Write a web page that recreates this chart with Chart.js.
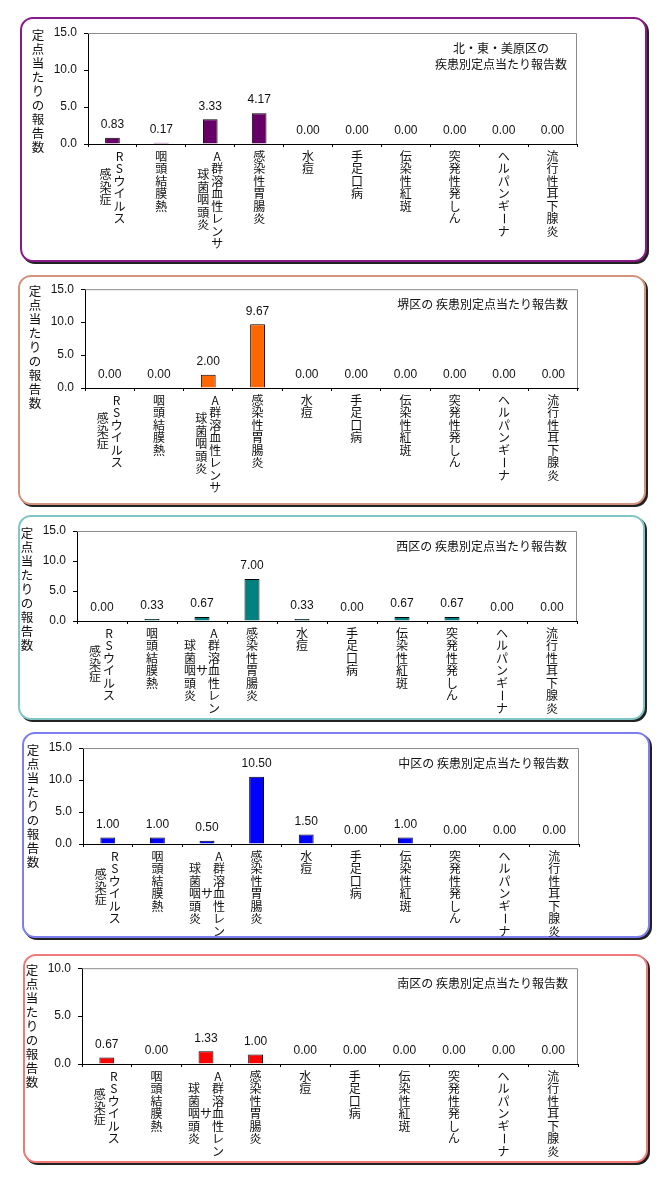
<!DOCTYPE html>
<html lang="ja">
<head>
<meta charset="utf-8">
<title>疾患別定点当たり報告数</title>
<script src="https://cdn.jsdelivr.net/npm/chart.js@4.4.1/dist/chart.umd.min.js"></script>
<style>
    html, body { margin: 0; padding: 0; background: #fff; }
    #page { position: relative; width: 660px; height: 1184px; overflow: hidden; }
    .box {
        position: absolute;
        box-sizing: border-box;
        border: 2px solid;
        border-radius: 13px;
        box-shadow: 2px 2px 0 #222;
        background: #fff;
    }
    .chart-wrap { position: absolute; }
</style>
</head>
<body>
<div id="page"></div>
<script>
// Fuentes / padrões
Chart.defaults.font.family = "'Liberation Sans', 'Noto Sans CJK JP', sans-serif";
Chart.defaults.color = '#111';

const JP_FONT = "'Noto Sans CJK JP', sans-serif";

// 疾患名
const diseaseNames = ['RSウイルス感染症', '咽頭結膜熱', 'A群溶血性レンサ球菌咽頭炎', '感染性胃腸炎', '水痘',
    '手足口病', '伝染性紅斑', '突発性発しん', 'ヘルパンギーナ', '流行性耳下腺炎'];

// 縦書きラベル（右の列から）
const labelColumns = [['RSウイルス', '感染症'], ['咽頭結膜熱'], ['A群溶血性レンサ', '球菌咽頭炎'], ['感染性胃腸炎'],
    ['水痘'], ['手足口病'], ['伝染性紅斑'], ['突発性発しん'], ['ヘルパンギーナ'], ['流行性耳下腺炎']];
const labelColumnsNarrow = [['RSウイルス', '感染症'], ['咽頭結膜熱'], ['A群溶血性レン', 'サ', '球菌咽頭炎'], ['感染性胃腸炎'],
    ['水痘'], ['手足口病'], ['伝染性紅斑'], ['突発性発しん'], ['ヘルパンギーナ'], ['流行性耳下腺炎']];

const yAxisTitle = '定点当たりの報告数';

// 定点当たり報告数
const kitaValues   = [0.83, 0.17, 3.33, 4.17, 0.00, 0.00, 0.00, 0.00, 0.00, 0.00];
const sakaiValues  = [0.00, 0.00, 2.00, 9.67, 0.00, 0.00, 0.00, 0.00, 0.00, 0.00];
const nishiValues  = [0.00, 0.33, 0.67, 7.00, 0.33, 0.00, 0.67, 0.67, 0.00, 0.00];
const nakaValues   = [1.00, 1.00, 0.50, 10.50, 1.50, 0.00, 1.00, 0.00, 0.00, 0.00];
const minamiValues = [0.67, 0.00, 1.33, 1.00, 0.00, 0.00, 0.00, 0.00, 0.00, 0.00];

// Y軸目盛
const yTicks15 = [0, 5, 10, 15];
const yTicks10 = [0, 5, 10];

// タイトル
const kitaTitle   = ['北・東・美原区の', '疾患別定点当たり報告数'];
const sakaiTitle  = ['堺区の 疾患別定点当たり報告数'];
const nishiTitle  = ['西区の 疾患別定点当たり報告数'];
const nakaTitle   = ['中区の 疾患別定点当たり報告数'];
const minamiTitle = ['南区の 疾患別定点当たり報告数'];

// box: [x, y, w, h]   plot: [left, top, right, bottom]  (page px)
const panels = [
    { title: kitaTitle, values: kitaValues, ticks: yTicks15, columns: labelColumns,
      bar: '#660066', frame: '#8a1a8a', box: [20, 17, 627, 245], plot: [88, 33, 577, 144] },
    { title: sakaiTitle, values: sakaiValues, ticks: yTicks15, columns: labelColumns,
      bar: '#ff6600', frame: '#d4937c', box: [18, 275, 628, 230], plot: [85, 288, 578, 388] },
    { title: nishiTitle, values: nishiValues, ticks: yTicks15, columns: labelColumnsNarrow,
      bar: '#008080', frame: '#80c6c6', box: [18, 515, 627, 205], plot: [77, 531, 577, 621] },
    { title: nakaTitle, values: nakaValues, ticks: yTicks15, columns: labelColumnsNarrow,
      bar: '#0000ff', frame: '#7e7ef0', box: [22, 732, 628, 206], plot: [83, 748, 579, 844] },
    { title: minamiTitle, values: minamiValues, ticks: yTicks10, columns: labelColumnsNarrow,
      bar: '#ff0000', frame: '#f07a7a', box: [23, 954, 625, 209], plot: [82, 967, 578, 1064] }
];

// 縦書き1文字ずつ
function drawVertical(ctx, text, x, y, pitch) {
    [...text].forEach((ch, k) => {
        const cy = y + k * pitch;
        if (ch === 'ー') {
            ctx.save();
            ctx.translate(x, cy);
            ctx.rotate(Math.PI / 2);
            ctx.fillText(ch, 0, 0);
            ctx.restore();
        } else {
            ctx.fillText(ch, x, cy);
        }
    });
}

const panelPlugin = {
    id: 'panelDecor',
    beforeDatasetsDraw(chart) {
        // plot area frame (top / right)
        const { ctx, chartArea: a } = chart;
        ctx.save();
        ctx.strokeStyle = '#8c8c8c';
        ctx.lineWidth = 1;
        ctx.beginPath();
        ctx.moveTo(a.left, a.top + 0.5);
        ctx.lineTo(a.right - 0.5, a.top + 0.5);
        ctx.lineTo(a.right - 0.5, a.bottom);
        ctx.stroke();
        ctx.restore();
    },
    afterDatasetsDraw(chart, args, opts) {
        const { ctx, chartArea: a } = chart;
        const xScale = chart.scales.x;
        const meta = chart.getDatasetMeta(0);
        const values = chart.data.datasets[0].data;

        ctx.save();
        ctx.fillStyle = '#111';
        ctx.textAlign = 'center';
        ctx.textBaseline = 'middle';

        // 値ラベル
        ctx.font = "12px 'Liberation Sans', sans-serif";
        meta.data.forEach((bar, i) => {
            ctx.fillText(values[i].toFixed(2), bar.x, bar.y - 13);
        });

        // Y軸タイトル
        ctx.font = '12.5px ' + JP_FONT;
        drawVertical(ctx, yAxisTitle, a.left - 50, a.top + 2, 14);

        // X軸ラベル（縦書き）
        ctx.font = '12px ' + JP_FONT;
        const pitch = 12.5;
        opts.columns.forEach((cols, i) => {
            const cx = xScale.getPixelForValue(i);
            const maxLen = Math.max(...cols.map(c => [...c].length));
            const gap = cols.length > 2 ? 12 : 14;
            cols.forEach((col, j) => {
                const x = cx + ((cols.length - 1) / 2 - j) * gap;
                const y = a.bottom + 12 + (maxLen - [...col].length) / 2 * pitch;
                drawVertical(ctx, col, x, y, pitch);
            });
        });

        // タイトル
        ctx.font = '12px ' + JP_FONT;
        const maxW = Math.max(...opts.title.map(t => ctx.measureText(t).width));
        const tx = a.right - 10 - maxW / 2;
        opts.title.forEach((t, k) => {
            ctx.fillText(t, tx, a.top + 15 + k * 16);
        });
        ctx.restore();
    }
};

function buildPanel(p) {
    const page = document.getElementById('page');
    const [bx, by, bw, bh] = p.box;
    const [pl, pt, pr, pb] = p.plot;

    const box = document.createElement('div');
    box.className = 'box';
    Object.assign(box.style, { left: bx + 'px', top: by + 'px', width: bw + 'px', height: bh + 'px', borderColor: p.frame });
    page.appendChild(box);

    const wrap = document.createElement('div');
    wrap.className = 'chart-wrap';
    Object.assign(wrap.style, { left: bx + 'px', top: by + 'px', width: bw + 'px', height: bh + 'px' });
    const canvas = document.createElement('canvas');
    wrap.appendChild(canvas);
    page.appendChild(wrap);

    new Chart(canvas.getContext('2d'), {
        type: 'bar',
        data: {
            labels: diseaseNames,
            datasets: [{
                data: p.values,
                backgroundColor: p.bar,
                borderColor: '#000',
                borderWidth: 1,
                barPercentage: 0.6,
                categoryPercentage: 0.5
            }]
        },
        options: {
            responsive: true,
            maintainAspectRatio: false,
            animation: false,
            layout: {
                padding: { left: 0, top: pt - by, right: bx + bw - pr, bottom: 0 }
            },
            plugins: {
                legend: { display: false },
                tooltip: { enabled: false },
                panelDecor: { columns: p.columns, title: p.title }
            },
            scales: {
                x: {
                    offset: true,
                    ticks: { display: false },
                    grid: { display: true, drawOnChartArea: false, offset: true, tickLength: 3, color: '#000' },
                    border: { display: true, color: '#000' },
                    afterFit(scale) { scale.height = by + bh - pb; }
                },
                y: {
                    min: 0,
                    max: p.ticks[p.ticks.length - 1],
                    afterBuildTicks(scale) { scale.ticks = p.ticks.map(v => ({ value: v })); },
                    ticks: {
                        padding: 7,
                        color: '#111',
                        font: { size: 12 },
                        callback: v => Number(v).toFixed(1)
                    },
                    grid: { drawOnChartArea: false, tickLength: 4, color: '#000' },
                    border: { display: true, color: '#000' },
                    afterFit(scale) { scale.width = pl - bx; }
                }
            }
        },
        plugins: [panelPlugin]
    });
}

panels.forEach(buildPanel);
</script>
</body>
</html>
